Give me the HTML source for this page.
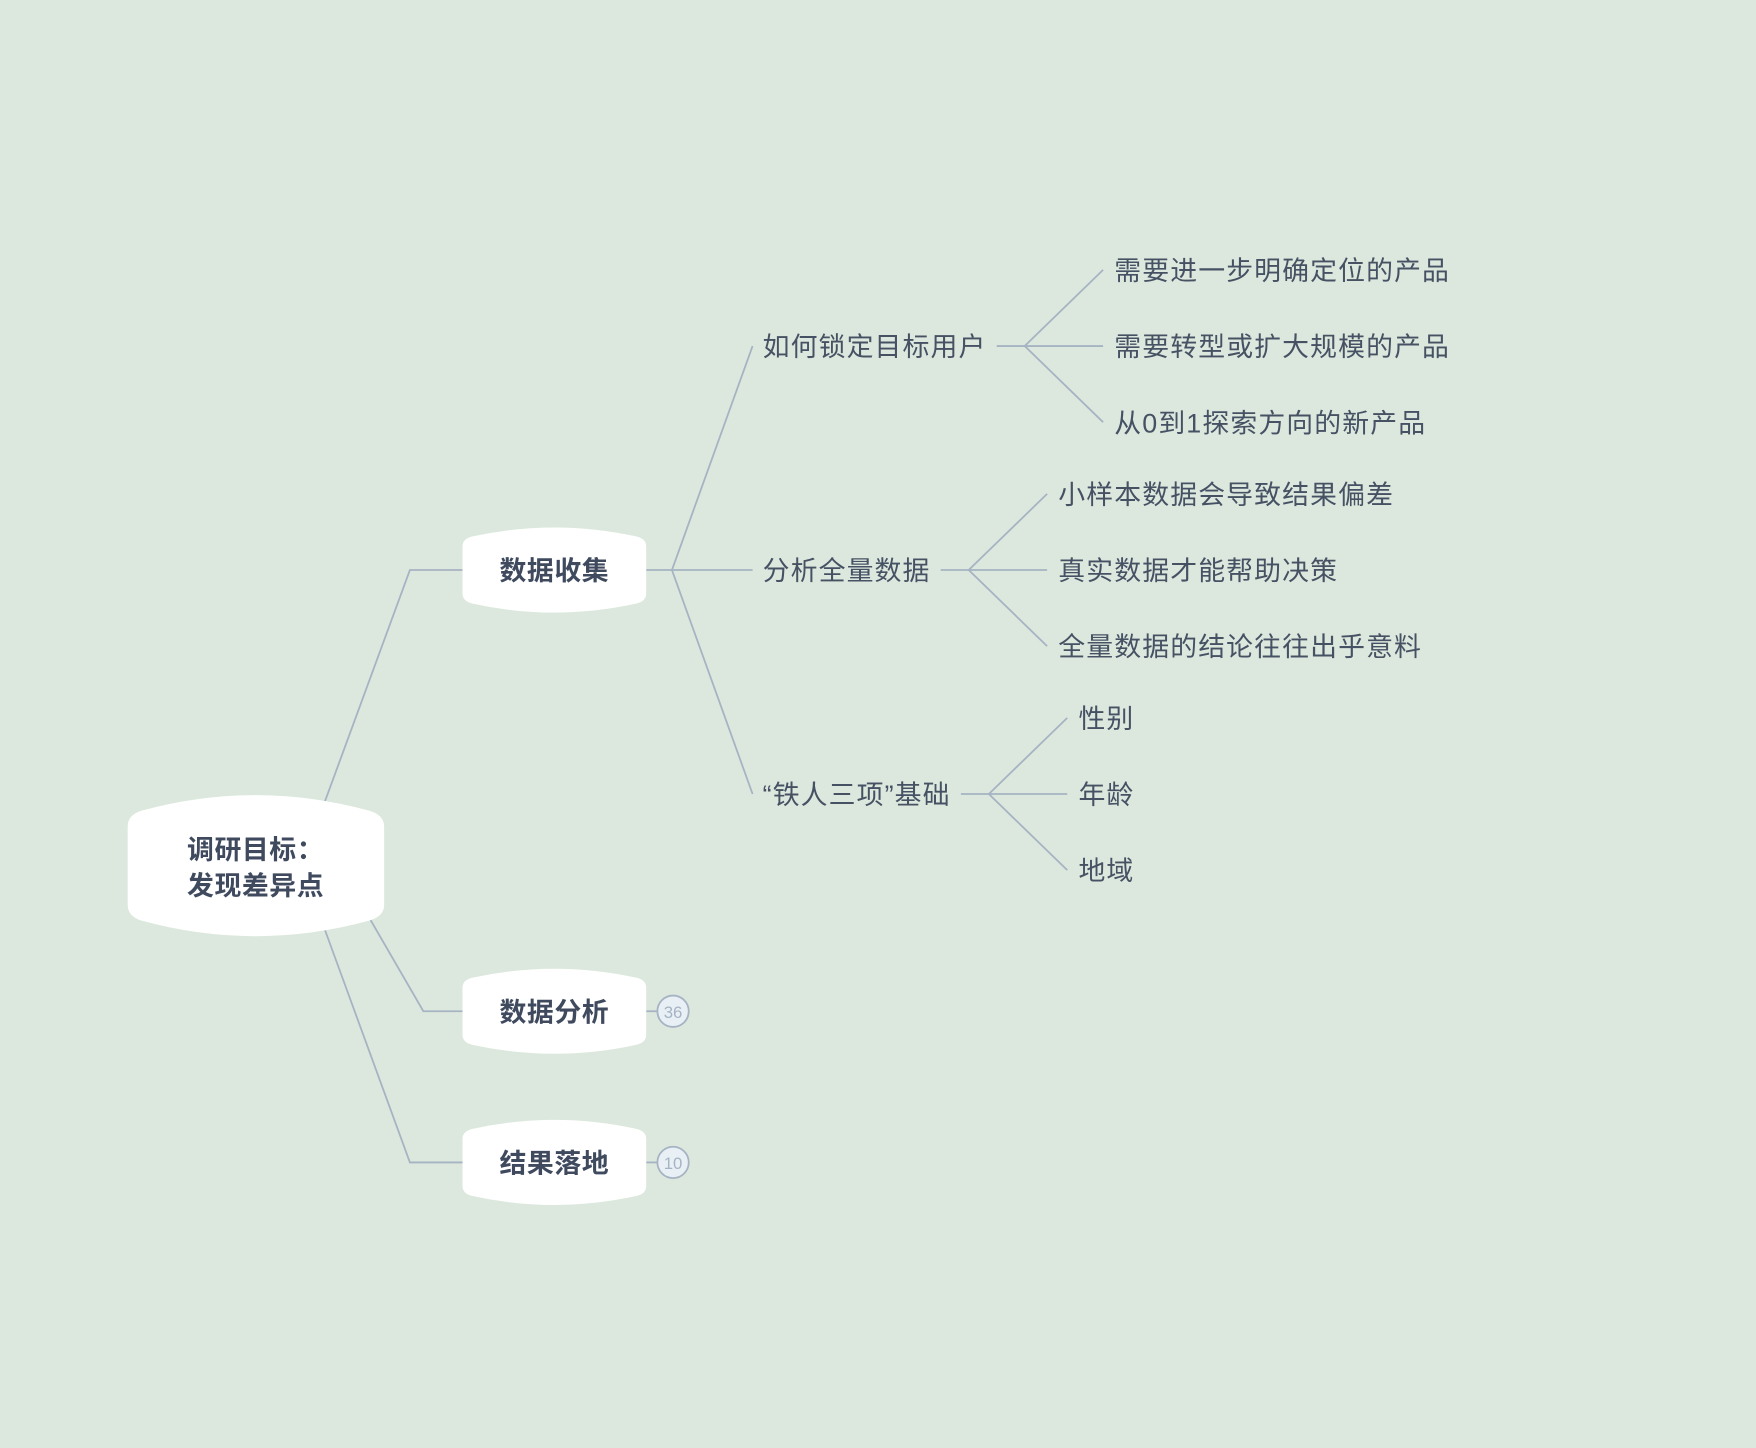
<!DOCTYPE html>
<html><head><meta charset="utf-8"><style>
html,body{margin:0;padding:0;background:#dce8dd;}
svg{display:block;}
text{font-family:"Liberation Sans","Noto Sans CJK SC",sans-serif;fill:#465264;}
.b{font-weight:bold;fill:#3f4a5e;letter-spacing:0.5px;}
.n text{letter-spacing:1px;}
</style></head><body>
<svg width="1756" height="1448" viewBox="0 0 1568 1293" xmlns="http://www.w3.org/2000/svg">
<rect width="1568" height="1293" fill="#dce8dd"/>
<g stroke="#a6b3c3" stroke-width="1.6" fill="none">
<polyline points="290,716 366,509 413,509"/>
<polyline points="330,820 378,903 413,903"/>
<polyline points="290,830 366,1038 413,1038"/>
<line x1="577" y1="903" x2="587" y2="903"/>
<line x1="577" y1="1038" x2="587" y2="1038"/>
<line x1="577" y1="509" x2="672" y2="509"/>
<polyline points="672,309 600,509 672,709"/>
<line x1="890" y1="309" x2="985" y2="309"/>
<polyline points="985,241 915,309 985,377"/>
<line x1="840" y1="509" x2="935" y2="509"/>
<polyline points="935,441 865,509 935,577"/>
<line x1="858" y1="709" x2="953" y2="709"/>
<polyline points="953,641 883,709 953,777"/>
</g>
<g fill="#fff">
<path d="M114,738 Q114,728 126,724 Q228,696 330,724 Q343,728 343,738 L343,808 Q343,818 330,822 Q228,850 126,822 Q114,818 114,808 Z"/>
<path d="M413,488 Q413,481 422,479 Q495,463 568,479 Q577,481 577,488 L577,530 Q577,537 568,539 Q495,555 422,539 Q413,537 413,530 Z"/>
<path d="M413,882 Q413,875 422,873 Q495,857 568,873 Q577,875 577,882 L577,924 Q577,931 568,933 Q495,949 422,933 Q413,931 413,924 Z"/>
<path d="M413,1017 Q413,1010 422,1008 Q495,992 568,1008 Q577,1010 577,1017 L577,1059 Q577,1066 568,1068 Q495,1084 422,1068 Q413,1066 413,1059 Z"/>
</g>
<circle cx="601" cy="903" r="14" fill="#e8f0f6" stroke="#a6b3c3" stroke-width="1.6"/>
<circle cx="601" cy="1038" r="14" fill="#e8f0f6" stroke="#a6b3c3" stroke-width="1.6"/>
<text x="601" y="909" font-size="15" text-anchor="middle" style="fill:#a6b3c3">36</text>
<text x="601" y="1044" font-size="15" text-anchor="middle" style="fill:#a6b3c3">10</text>
<text class="b" x="167" y="767" font-size="24">调研目标：</text>
<text class="b" x="167" y="799" font-size="24">发现差异点</text>
<text class="b" x="495" y="518" font-size="24" text-anchor="middle">数据收集</text>
<text class="b" x="495" y="912" font-size="24" text-anchor="middle">数据分析</text>
<text class="b" x="495" y="1047" font-size="24" text-anchor="middle">结果落地</text>
<g font-size="24" class="n">
<text x="681" y="318">如何锁定目标用户</text>
<text x="681" y="518">分析全量数据</text>
<text x="681" y="718">“铁人三项”基础</text>
<text x="995" y="250">需要进一步明确定位的产品</text>
<text x="995" y="318">需要转型或扩大规模的产品</text>
<text x="995" y="386">从0到1探索方向的新产品</text>
<text x="945" y="450">小样本数据会导致结果偏差</text>
<text x="945" y="518">真实数据才能帮助决策</text>
<text x="945" y="586">全量数据的结论往往出乎意料</text>
<text x="963" y="650">性别</text>
<text x="963" y="718">年龄</text>
<text x="963" y="786">地域</text>
</g>
</svg>
</body></html>
